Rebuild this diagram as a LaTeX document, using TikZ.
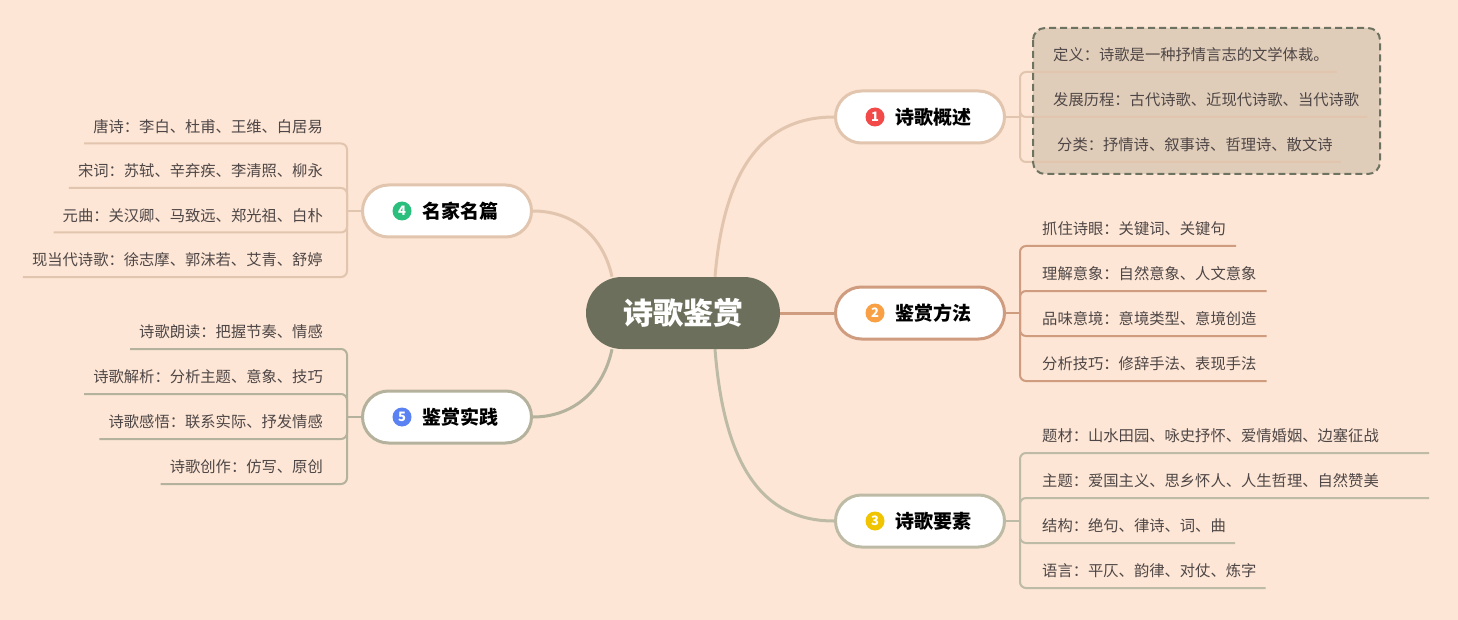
\documentclass[tikz,border=0pt]{standalone}
\usepackage{fontspec}
\setmainfont{Noto Sans CJK SC}
\usetikzlibrary{backgrounds}

\definecolor{peach}{HTML}{FDE6D5}
\definecolor{rootgray}{HTML}{6B6F5B}
\definecolor{tanA}{HTML}{E2C5AE}
\definecolor{tanB}{HTML}{CF9C7F}
\definecolor{sage}{HTML}{BDBBA5}
\definecolor{sageB}{HTML}{B4B29C}
\definecolor{boxtan}{HTML}{E0CDB9}
\definecolor{boxedge}{HTML}{6E7361}
\definecolor{leaftext}{HTML}{4E4646}
\definecolor{dotred}{HTML}{F24949}
\definecolor{dotorange}{HTML}{F8A043}
\definecolor{dotyellow}{HTML}{F1C400}
\definecolor{dotgreen}{HTML}{2BBF7D}
\definecolor{dotblue}{HTML}{5A82F2}

\tikzset{
  root/.style={fill=rootgray, text=white, rounded corners=36, minimum width=194, minimum height=72,
    font=\fontsize{30}{30}\selectfont\bfseries},
  topic/.style={fill=white, draw=#1, line width=3, rounded corners=26, minimum width=169, minimum height=52,
    font=\fontsize{19}{19}\selectfont\bfseries},
  numdot/.style={circle, fill=#1, text=white, inner sep=0, minimum size=19,
    font=\fontsize{13}{13}\selectfont\bfseries},
  leaf/.style={inner xsep=0, inner ysep=0, minimum height=34, text=leaftext,
    font=\fontsize{15.3}{15.3}\selectfont},
  link/.style={draw=#1, line width=3},
  twig/.style={draw=#1, line width=2, rounded corners=6},
}

\begin{document}
\begin{tikzpicture}[x=1pt, y=-1pt]
  \useasboundingbox (0,0) rectangle (1458,620);
  \begin{scope}[on background layer]
    \fill[peach] (0,0) rectangle (1458,620);
    \fill[boxtan, rounded corners=12] (1033,28) rectangle (1380,174);
  \end{scope}

  \node[root] (c) at (683,313) {诗歌鉴赏};

  \foreach \n/\x/\y/\col/\dot/\t in {%
      1/920/117/tanA/dotred/诗歌概述,
      2/920/313/tanB/dotorange/鉴赏方法,
      3/920/521/sage/dotyellow/诗歌要素,
      4/447/211/tanA/dotgreen/名家名篇,
      5/447/417/sageB/dotblue/鉴赏实践%
      }{
    \node[topic=\col] (b\n) at (\x,\y) {\hspace*{26pt}\t};
    \node[numdot=\dot] (d\n) at ([xshift=-45]b\n.center) {\n};
  }

  \begin{scope}[on background layer]
    \draw[link=tanA] ([xshift=32]c.north) .. controls (724,170) and (762,117) .. (b1.west);
    \draw[link=tanB] (c.east) -- (b2.west);
    \draw[link=sage] ([xshift=32]c.south) .. controls (724,465) and (762,521) .. (b3.west);
    \draw[link=tanA] ([xshift=-71]c.north) .. controls (603,235) and (572,211) .. (b4.east);
    \draw[link=sageB] ([xshift=-71]c.south) .. controls (603,392) and (572,417) .. (b5.east);
  \end{scope}

  % right side
  \draw[twig=tanA] (b1.east) -- ++(14,0) coordinate (k1);
  \foreach \t/\d [count=\i] in {%
      定义：诗歌是一种抒情言志的文学体裁。/0,
      发展历程：古代诗歌、近现代诗歌、当代诗歌/0,
      分类：抒情诗、叙事诗、哲理诗、散文诗/4%
      }{
    \node[leaf, anchor=south west] (a\i) at (1053+\d, 27+45*\i) {\t};
    \draw[twig=tanA] (k1) |- (a\i.south west) -- ([xshift=8]a\i.south east);
  }
  \draw[boxedge, line width=2, dash pattern=on 7pt off 4pt, rounded corners=12] (1033,28) rectangle (1380,174);

  \draw[twig=tanB] (b2.east) -- ++(14,0) coordinate (k2);
  \foreach \t [count=\i] in {%
      抓住诗眼：关键词、关键句,
      理解意象：自然意象、人文意象,
      品味意境：意境类型、意境创造,
      分析技巧：修辞手法、表现手法%
      }{
    \node[leaf, anchor=south west] (m\i) at (1042, 201+45*\i) {\t};
    \draw[twig=tanB] (k2) |- (m\i.south west) -- ([xshift=10]m\i.south east);
  }

  \draw[twig=sage] (b3.east) -- ++(14,0) coordinate (k3);
  \foreach \t/\p [count=\i] in {%
      题材：山水田园、咏史抒怀、爱情婚姻、边塞征战/50,
      主题：爱国主义、思乡怀人、人生哲理、自然赞美/50,
      结构：绝句、律诗、词、曲/9,
      语言：平仄、韵律、对仗、炼字/9%
      }{
    \node[leaf, anchor=south west] (e\i) at (1042, 408+45*\i) {\t};
    \draw[twig=sage] (k3) |- (e\i.south west) -- ([xshift=\p]e\i.south east);
  }

  % left side
  \draw[twig=tanA] (b4.west) -- ++(-14,0) coordinate (k4);
  \foreach \t [count=\i] in {%
      唐诗：李白、杜甫、王维、白居易,
      宋词：苏轼、辛弃疾、李清照、柳永,
      元曲：关汉卿、马致远、郑光祖、白朴,
      现当代诗歌：徐志摩、郭沫若、艾青、舒婷%
      }{
    \node[leaf, anchor=south east] (p\i) at (323, 99+44.5*\i) {\t};
    \draw[twig=tanA] (k4) |- (p\i.south east) -- ([xshift=-9]p\i.south west);
  }

  \draw[twig=sageB] (b5.west) -- ++(-14,0) coordinate (k5);
  \foreach \t [count=\i] in {%
      诗歌朗读：把握节奏、情感,
      诗歌解析：分析主题、意象、技巧,
      诗歌感悟：联系实际、抒发情感,
      诗歌创作：仿写、原创%
      }{
    \node[leaf, anchor=south east] (s\i) at (323, 304+45*\i) {\t};
    \draw[twig=sageB] (k5) |- (s\i.south east) -- ([xshift=-9]s\i.south west);
  }
\end{tikzpicture}
\end{document}
